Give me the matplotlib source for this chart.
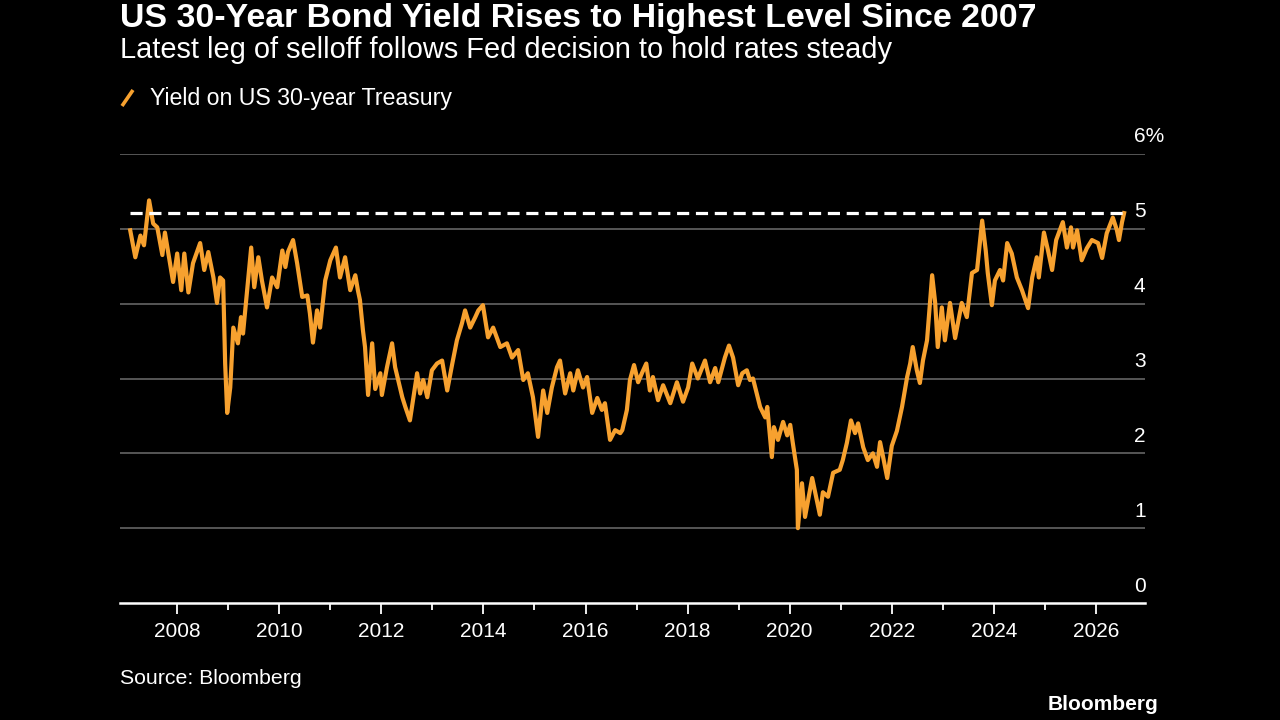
import matplotlib
matplotlib.use("Agg")
import matplotlib.pyplot as plt
from matplotlib.lines import Line2D

# ---------------- data ----------------
years = [
    2007.08, 2007.18, 2007.28, 2007.35, 2007.45, 2007.53, 2007.61, 2007.71, 2007.76, 2007.92,
    2008.00, 2008.08, 2008.14, 2008.22, 2008.31, 2008.45, 2008.53, 2008.61, 2008.71, 2008.78,
    2008.84, 2008.90, 2008.94, 2008.98, 2009.04, 2009.10, 2009.19, 2009.25, 2009.29, 2009.39,
    2009.45, 2009.51, 2009.59, 2009.66, 2009.76, 2009.86, 2009.96, 2010.06, 2010.12, 2010.17,
    2010.27, 2010.35, 2010.45, 2010.55, 2010.60, 2010.66, 2010.74, 2010.80, 2010.90, 2011.00,
    2011.11, 2011.19, 2011.29, 2011.39, 2011.49, 2011.54, 2011.58, 2011.64, 2011.68, 2011.74,
    2011.82, 2011.88, 2011.98, 2012.01, 2012.11, 2012.21, 2012.27, 2012.41, 2012.47, 2012.56,
    2012.70, 2012.76, 2012.82, 2012.90, 2012.99, 2013.09, 2013.19, 2013.29, 2013.39, 2013.48,
    2013.58, 2013.64, 2013.74, 2013.84, 2013.90, 2013.99, 2014.09, 2014.19, 2014.33, 2014.46,
    2014.56, 2014.68, 2014.78, 2014.87, 2014.97, 2015.07, 2015.17, 2015.25, 2015.34, 2015.44,
    2015.50, 2015.60, 2015.70, 2015.76, 2015.85, 2015.95, 2016.03, 2016.13, 2016.23, 2016.32,
    2016.38, 2016.48, 2016.58, 2016.68, 2016.72, 2016.81, 2016.87, 2016.95, 2017.03, 2017.11,
    2017.19, 2017.26, 2017.32, 2017.42, 2017.52, 2017.66, 2017.79, 2017.91, 2018.01, 2018.09,
    2018.20, 2018.34, 2018.44, 2018.54, 2018.60, 2018.73, 2018.81, 2018.89, 2018.99, 2019.07,
    2019.16, 2019.22, 2019.28, 2019.42, 2019.52, 2019.56, 2019.65, 2019.69, 2019.77, 2019.87,
    2019.95, 2020.01, 2020.06, 2020.14, 2020.16, 2020.24, 2020.30, 2020.44, 2020.53, 2020.59,
    2020.65, 2020.75, 2020.85, 2020.98, 2021.04, 2021.12, 2021.20, 2021.28, 2021.34, 2021.44,
    2021.53, 2021.63, 2021.71, 2021.77, 2021.83, 2021.91, 2022.00, 2022.10, 2022.20, 2022.30,
    2022.36, 2022.41, 2022.49, 2022.55, 2022.61, 2022.69, 2022.79, 2022.85, 2022.90, 2022.98,
    2023.04, 2023.14, 2023.24, 2023.37, 2023.47, 2023.57, 2023.67, 2023.73, 2023.77, 2023.84,
    2023.88, 2023.96, 2024.02, 2024.12, 2024.18, 2024.26, 2024.35, 2024.45, 2024.55, 2024.67,
    2024.75, 2024.84, 2024.88, 2024.98, 2025.06, 2025.14, 2025.22, 2025.35, 2025.43, 2025.51,
    2025.55, 2025.63, 2025.72, 2025.82, 2025.92, 2026.04, 2026.12, 2026.21, 2026.33, 2026.41,
    2026.45, 2026.51, 2026.55,
]
yield_30y = [
    4.98, 4.62, 4.91, 4.78, 5.38, 5.07, 5.02, 4.65, 4.95, 4.29,
    4.67, 4.18, 4.67, 4.15, 4.54, 4.81, 4.45, 4.69, 4.35, 4.01,
    4.35, 4.31, 3.20, 2.54, 2.88, 3.68, 3.47, 3.82, 3.60, 4.31,
    4.75, 4.22, 4.62, 4.31, 3.95, 4.35, 4.22, 4.71, 4.49, 4.69,
    4.85, 4.54, 4.09, 4.11, 3.87, 3.48, 3.91, 3.68, 4.31, 4.58,
    4.75, 4.35, 4.62, 4.18, 4.38, 4.18, 4.05, 3.64, 3.42, 2.78,
    3.47, 2.86, 3.07, 2.78, 3.15, 3.47, 3.15, 2.75, 2.62, 2.44,
    3.07, 2.80, 2.98, 2.75, 3.11, 3.20, 3.24, 2.84, 3.20, 3.51,
    3.74, 3.91, 3.68, 3.82, 3.91, 3.98, 3.55, 3.68, 3.42, 3.47,
    3.28, 3.38, 2.98, 3.07, 2.75, 2.22, 2.84, 2.54, 2.88, 3.15,
    3.24, 2.80, 3.07, 2.84, 3.11, 2.88, 3.02, 2.54, 2.74, 2.58,
    2.67, 2.18, 2.31, 2.27, 2.31, 2.58, 2.98, 3.18, 2.95, 3.08,
    3.20, 2.84, 3.02, 2.71, 2.91, 2.67, 2.95, 2.69, 2.88, 3.20,
    3.00, 3.24, 2.95, 3.14, 2.95, 3.28, 3.44, 3.28, 2.91, 3.07,
    3.11, 2.98, 3.00, 2.62, 2.48, 2.62, 1.95, 2.35, 2.18, 2.42,
    2.24, 2.38, 2.14, 1.78, 1.00, 1.60, 1.15, 1.67, 1.38, 1.18,
    1.48, 1.42, 1.74, 1.78, 1.91, 2.14, 2.44, 2.27, 2.40, 2.08,
    1.91, 2.00, 1.82, 2.15, 1.95, 1.67, 2.10, 2.30, 2.62, 3.02,
    3.20, 3.42, 3.11, 2.94, 3.24, 3.51, 4.38, 4.01, 3.42, 3.95,
    3.51, 4.01, 3.54, 4.01, 3.82, 4.41, 4.45, 4.85, 5.11, 4.71,
    4.41, 3.98, 4.31, 4.45, 4.31, 4.81, 4.67, 4.35, 4.18, 3.94,
    4.35, 4.62, 4.35, 4.95, 4.71, 4.45, 4.85, 5.09, 4.75, 5.02,
    4.75, 4.98, 4.58, 4.74, 4.85, 4.81, 4.61, 4.94, 5.15, 4.98,
    4.85, 5.09, 5.21,
]
current_level = 5.21
x_ticks_major = [2008, 2010, 2012, 2014, 2016, 2018, 2020, 2022, 2024, 2026]
x_ticks_minor = [2009, 2011, 2013, 2015, 2017, 2019, 2021, 2023, 2025]
y_ticks = [0, 1, 2, 3, 4, 5, 6]
y_tick_labels = ["0", "1", "2", "3", "4", "5", "6%"]

title = "US 30-Year Bond Yield Rises to Highest Level Since 2007"
subtitle = "Latest leg of selloff follows Fed decision to hold rates steady"
legend_label = "Yield on US 30-year Treasury"
source = "Source: Bloomberg"
brand = "Bloomberg"

# ---------------- style ----------------
W, H = 1280, 720
ORANGE = "#f7a12f"
GRID = "#5c5c5c"
FONT = ["Liberation Sans Narrow", "Liberation Sans", "DejaVu Sans"]

fig = plt.figure(figsize=(12.8, 7.2), dpi=100, facecolor="black")


def px(x, y):
    return x / W, 1 - y / H


ax_l, ax_r, ax_t, ax_b = 120, 1145, 154, 603
ax = fig.add_axes([ax_l / W, 1 - ax_b / H, (ax_r - ax_l) / W, (ax_b - ax_t) / H])
ax.set_facecolor("black")
ax.set_xlim(2006.88, 2026.96)
ax.set_ylim(0, 6)

for v in y_ticks[1:]:
    ax.axhline(v, color=GRID, lw=1.3, zorder=1)

ax.plot(years, yield_30y, color=ORANGE, lw=3.0, solid_joinstyle="round", zorder=3)
ax.plot([years[0], years[-1]], [current_level, current_level], color="white", lw=2.3,
        linestyle=(0, (3.8, 2.1)), dash_capstyle="butt", zorder=4)

for s in ["top", "left", "right"]:
    ax.spines[s].set_visible(False)
ax.spines["bottom"].set_color("white")
ax.spines["bottom"].set_linewidth(1.8)
ax.set_yticks([])
ax.set_xticks(x_ticks_major)
ax.set_xticks(x_ticks_minor, minor=True)
ax.set_xticklabels([str(y) for y in x_ticks_major])
ax.tick_params(axis="x", which="major", colors="white", length=8, width=1.3, pad=6,
               labelsize=15)
ax.tick_params(axis="x", which="minor", colors="white", length=5, width=1.3)
for lab in ax.get_xticklabels():
    lab.set_family(FONT)

for v, lab in zip(y_ticks, y_tick_labels):
    ax.annotate(lab, xy=(1134 / W, v), xycoords=("figure fraction", "data"),
                xytext=(0, 17), textcoords="offset pixels", ha="left", va="center",
                color="white", fontsize=15, family=FONT)

# texts
t_title = fig.text(*px(120, 18), title, color="white", fontsize=20, fontweight="bold",
                   ha="left", va="center", family=FONT)
t_sub = fig.text(*px(120, 50), subtitle, color="white", fontsize=17, ha="left",
                 va="center", family=FONT)
t_leg = fig.text(*px(150, 98), legend_label, color="white", fontsize=15, ha="left",
                 va="center", family=FONT)
fig.add_artist(Line2D([122 / W, 133 / W], [1 - 106 / H, 1 - 90 / H], color=ORANGE,
                      lw=2.6, solid_capstyle="butt"))
t_src = fig.text(*px(120, 678), source, color="white", fontsize=15, ha="left",
                 va="center", family=FONT)
t_brand = fig.text(*px(1158, 705), brand, color="white", fontsize=15, fontweight="bold",
                   ha="right", va="center", family=FONT)

# fit text widths to the reference
fig.canvas.draw()
r = fig.canvas.get_renderer()
for t, wt in [(t_title, 916), (t_sub, 775), (t_leg, 303), (t_src, 182), (t_brand, 111)]:
    w = t.get_window_extent(r).width
    t.set_fontsize(t.get_fontsize() * wt / w)

fig.savefig("out.png", dpi=100, facecolor="black")
